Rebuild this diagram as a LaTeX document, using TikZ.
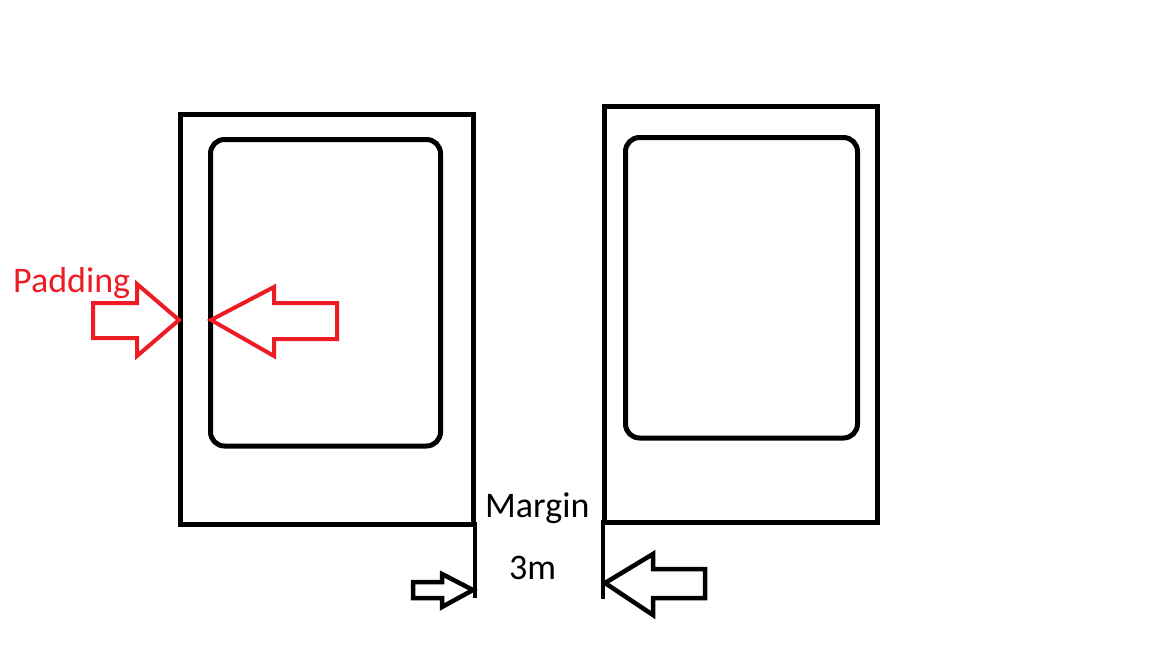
\documentclass[tikz,border=0pt]{standalone}
\usepackage{fontspec}
\setmainfont{Carlito}
\definecolor{padred}{RGB}{237,28,36}
\tikzset{
  box/.style={draw=black, line width=5pt},
  inner/.style={draw=black, line width=5pt, rounded corners=14pt},
  redarrow/.style={draw=padred, line width=4pt, line join=miter},
  blkarrow/.style={draw=black, line width=4.5pt, line join=miter},
  blkline/.style={draw=black, line width=4.5pt},
  lbl/.style={font=\fontsize{36}{40}\selectfont, anchor=base west, inner sep=0pt},
}
\begin{document}
\begin{tikzpicture}[x=1pt,y=-1pt]
\useasboundingbox (0,0) rectangle (1152,648);
% boxes
\draw[box] (180,114.5) rectangle (473,524);
\draw[inner] (210.5,139.5) rectangle (440.5,446);
\draw[box] (604,106.5) rectangle (877,522);
\draw[inner] (625.5,137.5) rectangle (857.5,438);
% padding arrows
\draw[redarrow] (93,303) -- (137,303) -- (137,284) -- (179,320) -- (137,356) -- (137,338) -- (93,338) -- cycle;
\draw[redarrow] (337,303) -- (274,303) -- (274,287) -- (211,320) -- (274,356) -- (274,339) -- (337,339) -- cycle;
% margin lines
\draw[blkline] (475,522) -- (475,598);
\draw[blkline] (603,520) -- (603,599);
% margin arrows
\draw[blkarrow] (413,582) -- (442,582) -- (442,574) -- (473,590) -- (442,607) -- (442,598) -- (413,598) -- cycle;
\draw[blkarrow] (705,569) -- (653,569) -- (653,554) -- (605,583) -- (653,615) -- (653,598) -- (705,598) -- cycle;
% labels
\node[lbl, text=padred] (padding) at (13,292) {Padding};
\node[lbl] (margin) at (485,517) {Margin};
\node[lbl] (threem) at (509,579) {3m};
\end{tikzpicture}
\end{document}
